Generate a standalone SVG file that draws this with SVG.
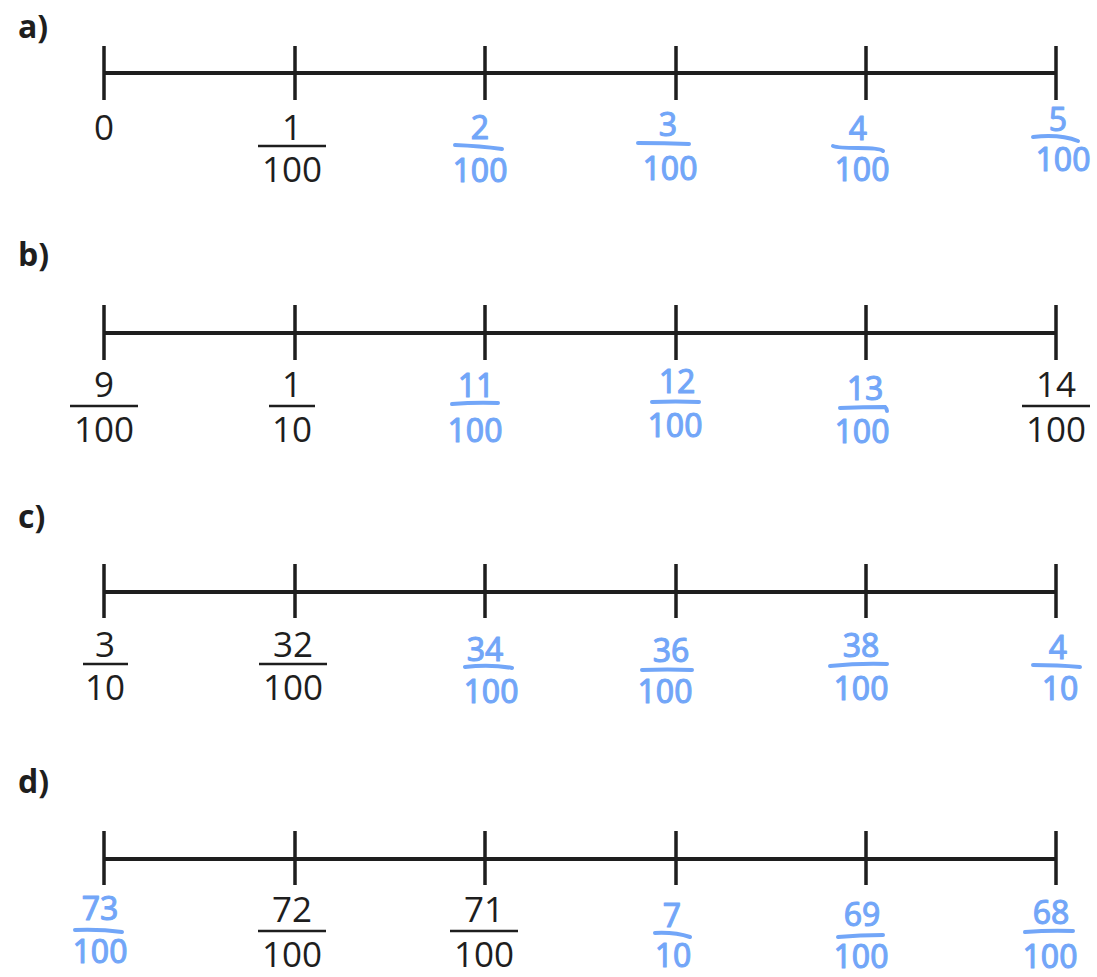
<svg xmlns="http://www.w3.org/2000/svg" width="1097" height="977" viewBox="0 0 1097 977">
<style>
.axis{stroke:#1e1e1e;stroke-width:4;fill:none}
.tick{stroke:#1e1e1e;stroke-width:3.5;fill:none}
.lbl{font-family:"Open Sans","Liberation Sans",sans-serif;font-weight:bold;font-size:32px;fill:#1e1e1e}
.k{font-family:"Open Sans","Liberation Sans",sans-serif;font-size:35px;fill:#1e1e1e;text-anchor:middle}
.kbar{stroke:#1e1e1e;stroke-width:2.5;fill:none}
.b{font-family:"Noto Sans","Open Sans",sans-serif;font-size:32px;fill:#72a6f8;stroke:#72a6f8;stroke-width:1;stroke-linejoin:round;text-anchor:middle}
.bbar{stroke:#72a6f8;stroke-width:4;fill:none;stroke-linecap:round}
</style>
<rect width="1097" height="977" fill="#ffffff"/>
<g id="labels">
<text class="lbl" x="18" y="38">a)</text>
<text class="lbl" x="18" y="266">b)</text>
<text class="lbl" x="18" y="528">c)</text>
<text class="lbl" x="18" y="793">d)</text>
</g>
<g id="axes">
<g id="line-a"><path class="axis" d="M104 73H1056"/><path class="tick" d="M104 46V100M295 46V100M485 46V100M676 46V100M866 46V100M1056 46V100"/></g>
<g id="line-b"><path class="axis" d="M104 333H1056"/><path class="tick" d="M104 305V360M295 305V360M485 305V360M676 305V360M866 305V360M1056 305V360"/></g>
<g id="line-c"><path class="axis" d="M104 592H1056"/><path class="tick" d="M104 564V618M295 564V618M485 564V618M676 564V618M866 564V618M1056 564V618"/></g>
<g id="line-d"><path class="axis" d="M104 859H1056"/><path class="tick" d="M104 831V885M295 831V885M485 831V885M676 831V885M866 831V885M1056 831V885"/></g>
</g>
<!-- row a -->
<g id="a0"><text class="k" x="104" y="140">0</text></g>
<g id="a1"><text class="k" x="292" y="140">1</text><path class="kbar" d="M258 146H326"/><text class="k" x="292" y="182">100</text></g>
<g id="a2"><text class="b" x="480" y="139">2</text><path class="bbar" d="M455 145Q480 146 502 149"/><text class="b" x="480" y="182">100</text></g>
<g id="a3"><text class="b" x="668" y="136">3</text><path class="bbar" d="M638 143Q665 143 689 144"/><text class="b" x="670" y="180">100</text></g>
<g id="a4"><text class="b" x="858" y="140">4</text><path class="bbar" d="M833 146Q838 148 858 148Q880 148 883 151"/><text class="b" x="862" y="181">100</text></g>
<g id="a5"><text class="b" x="1058" y="131">5</text><path class="bbar" d="M1033 137Q1060 134 1078 141"/><text class="b" x="1063" y="171">100</text></g>
<!-- row b -->
<g id="b0"><text class="k" x="104" y="397">9</text><path class="kbar" d="M70 406H138"/><text class="k" x="104" y="442">100</text></g>
<g id="b1"><text class="k" x="292" y="397">1</text><path class="kbar" d="M269 406H315"/><text class="k" x="292" y="442">10</text></g>
<g id="b2"><text class="b" x="476" y="397">11</text><path class="bbar" d="M452 404Q476 402 498 403"/><text class="b" x="475" y="442">100</text></g>
<g id="b3"><text class="b" x="677" y="393">12</text><path class="bbar" d="M652 402Q676 401 699 402"/><text class="b" x="675" y="437">100</text></g>
<g id="b4"><text class="b" x="865" y="400">13</text><path class="bbar" d="M840 408Q864 407 885 407Q887 409 887 411"/><text class="b" x="862" y="443">100</text></g>
<g id="b5"><text class="k" x="1056" y="397">14</text><path class="kbar" d="M1022 406H1090"/><text class="k" x="1056" y="442">100</text></g>
<!-- row c -->
<g id="c0"><text class="k" x="105" y="657">3</text><path class="kbar" d="M83 664H128"/><text class="k" x="105" y="700">10</text></g>
<g id="c1"><text class="k" x="293" y="657">32</text><path class="kbar" d="M259 664H327"/><text class="k" x="293" y="700">100</text></g>
<g id="c2"><text class="b" x="485" y="661">34</text><path class="bbar" d="M465 667Q490 664 512 668"/><text class="b" x="491" y="703">100</text></g>
<g id="c3"><text class="b" x="671" y="662">36</text><path class="bbar" d="M642 670Q668 669 692 670"/><text class="b" x="665" y="703">100</text></g>
<g id="c4"><text class="b" x="861" y="657">38</text><path class="bbar" d="M830 666Q860 663 887 664"/><text class="b" x="861" y="700">100</text></g>
<g id="c5"><text class="b" x="1058" y="659">4</text><path class="bbar" d="M1033 665Q1058 665 1080 667"/><text class="b" x="1060" y="700">10</text></g>
<!-- row d -->
<g id="d0"><text class="b" x="100" y="920">73</text><path class="bbar" d="M75 930Q100 929 122 932"/><text class="b" x="100" y="963">100</text></g>
<g id="d1"><text class="k" x="292" y="922">72</text><path class="kbar" d="M258 931H326"/><text class="k" x="292" y="967">100</text></g>
<g id="d2"><text class="k" x="484" y="922">71</text><path class="kbar" d="M450 931H518"/><text class="k" x="484" y="967">100</text></g>
<g id="d3"><text class="b" x="672" y="927">7</text><path class="bbar" d="M655 933Q675 932 690 937"/><text class="b" x="673" y="967">10</text></g>
<g id="d4"><text class="b" x="862" y="926">69</text><path class="bbar" d="M838 937Q860 935 883 935"/><text class="b" x="861" y="968">100</text></g>
<g id="d5"><text class="b" x="1051" y="924">68</text><path class="bbar" d="M1025 932Q1050 930 1073 931"/><text class="b" x="1050" y="968">100</text></g>
</svg>
